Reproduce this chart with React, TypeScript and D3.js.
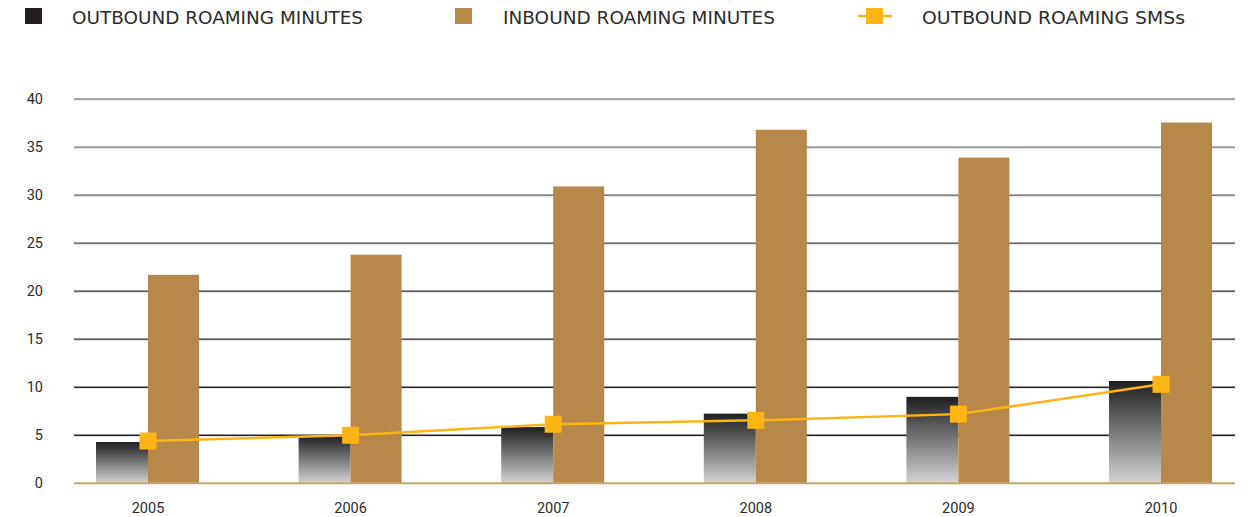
import React from "react";
import * as d3 from "d3";

const years = ["2005", "2006", "2007", "2008", "2009", "2010"];
const outboundMinutes = [4.3, 5.0, 5.85, 7.25, 9.0, 10.65];
const inboundMinutes = [21.7, 23.8, 30.9, 36.8, 33.9, 37.55];
const outboundSMS = [4.4, 5.0, 6.15, 6.55, 7.2, 10.3];
const yTicks = [0, 5, 10, 15, 20, 25, 30, 35, 40];
const legendLabels = ["OUTBOUND ROAMING MINUTES", "INBOUND ROAMING MINUTES", "OUTBOUND ROAMING SMSs"];

const W = 1249;
const H = 517;
const BROWN = "#B8884A";
const GOLD = "#FDB515";

export default function App() {
  const x = d3.scalePoint<string>().domain(years).range([148, 1161]);
  const y = d3.scaleLinear().domain([0, 40]).range([483.3, 99]);
  const barW = 52;
  const gridColor = d3.scaleLinear<string>().domain([0, 20, 40]).range(["#1e1e1e", "#2a2a2a", "#8a8a8a"]);
  const line = d3
    .line<number>()
    .x((_, i) => x(years[i])!)
    .y((d) => y(d));
  const legendFont = "'DejaVu Sans', 'Open Sans', sans-serif";
  const axisFont = "Roboto, 'DejaVu Sans Condensed', sans-serif";

  return (
    <svg
      width={W}
      height={H}
      style={{ position: "absolute", left: 0, top: 0, display: "block", background: "#fff" }}
    >
      <defs>
        <linearGradient id="darkGrad" x1="0" y1="0" x2="0" y2="1">
          <stop offset="0%" stopColor="#1e1e1f" />
          <stop offset="100%" stopColor="#d4d4d6" />
        </linearGradient>
      </defs>

      {/* Legend */}
      <g>
        <rect x={25} y={8} width={17} height={16} fill="#231f20" />
        <text x={72} y={24} fontFamily={legendFont} fontSize={17} fill="#2b2b2b" textLength={291} lengthAdjust="spacingAndGlyphs">
          {legendLabels[0]}
        </text>
        <rect x={455} y={8} width={17} height={16} fill={BROWN} />
        <text x={503} y={24} fontFamily={legendFont} fontSize={17} fill="#2b2b2b" textLength={272} lengthAdjust="spacingAndGlyphs">
          {legendLabels[1]}
        </text>
        <line x1={858} x2={892} y1={16} y2={16} stroke={GOLD} strokeWidth={2.5} />
        <rect x={866} y={8} width={17} height={16} fill={GOLD} />
        <text x={922} y={24} fontFamily={legendFont} fontSize={17} fill="#2b2b2b" textLength={263} lengthAdjust="spacingAndGlyphs">
          {legendLabels[2]}
        </text>
      </g>

      {/* Grid */}
      {yTicks.filter((t) => t > 0).map((t) => (
        <g key={t}>
          <line x1={74} x2={1235} y1={y(t) + 1.3} y2={y(t) + 1.3} stroke="#e4e4e4" strokeWidth={1} />
          <line x1={74} x2={1235} y1={y(t)} y2={y(t)} stroke={gridColor(t)} strokeWidth={1.3} />
        </g>
      ))}

      {/* Y tick labels */}
      {yTicks.map((t) => (
        <text key={t} x={43} y={y(t) + 5} textAnchor="end" fontFamily={axisFont} fontSize={14.5} fill="#2b2b2b">
          {t}
        </text>
      ))}

      {/* Bars */}
      {years.map((yr, i) => (
        <g key={yr}>
          <rect
            x={x(yr)! - barW}
            y={y(outboundMinutes[i])}
            width={barW}
            height={y(0) - y(outboundMinutes[i])}
            fill="url(#darkGrad)"
          />
          <rect
            x={x(yr)!}
            y={y(inboundMinutes[i])}
            width={barW - 1}
            height={y(0) - y(inboundMinutes[i])}
            fill={BROWN}
          />
        </g>
      ))}

      {/* Zero axis */}
      <line x1={74} x2={1235} y1={y(0)} y2={y(0)} stroke="#C9A36E" strokeWidth={2} />

      {/* X labels */}
      {years.map((yr) => (
        <text key={yr} x={x(yr)!} y={513} textAnchor="middle" fontFamily={axisFont} fontSize={14.5} fill="#2b2b2b">
          {yr}
        </text>
      ))}

      {/* SMS line */}
      <path d={line(outboundSMS)!} fill="none" stroke={GOLD} strokeWidth={2.5} />
      {outboundSMS.map((v, i) => (
        <rect key={i} x={x(years[i])! - 8.5} y={y(v) - 8.5} width={17} height={17} fill={GOLD} />
      ))}
    </svg>
  );
}
